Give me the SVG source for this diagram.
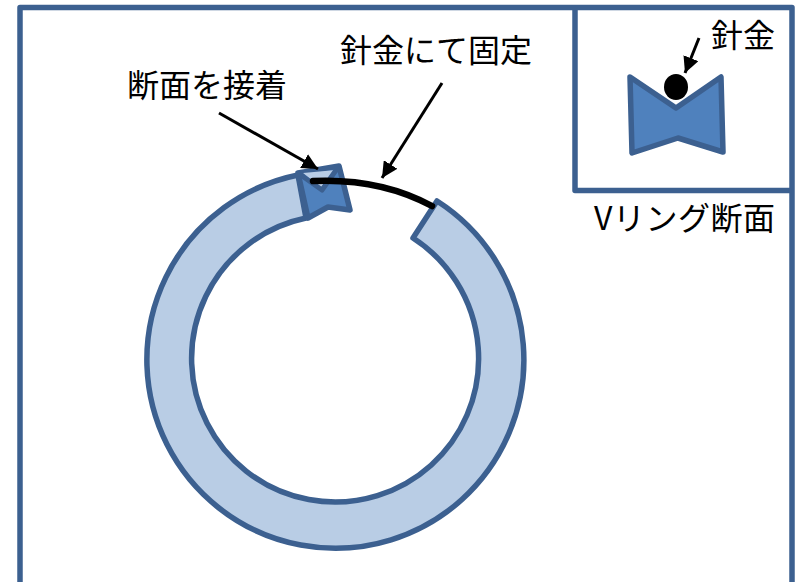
<svg xmlns="http://www.w3.org/2000/svg" width="796" height="582" viewBox="0 0 796 582">
<style>
.f{fill:none;stroke:#3c6090;stroke-width:5.500;stroke-linejoin:round}
.r{fill:#b9cde5;stroke:#3c6090;stroke-width:5.500;stroke-linejoin:round}
.v{fill:#4f81bd;stroke:#3c6090;stroke-width:5.500;stroke-linejoin:round}
.a{fill:none;stroke:#000;stroke-width:3}
text{font-family:"Noto Sans CJK JP","Noto Sans",sans-serif;font-size:32px;fill:#000;font-weight:400}
</style>
<defs><marker id="h" markerUnits="userSpaceOnUse" markerWidth="18" markerHeight="16" refX="16" refY="8" orient="auto"><path d="M0,0L16,8L0,16z" fill="#000"/></marker></defs>
<rect width="796" height="582" fill="#fff"/>
<g id="frame"><path class="f" d="M20,590V7.500H792V590"/></g>
<g id="inset"><path class="f" d="M575,7.500V190.500H792"/></g>
<g id="ring"><path class="r" d="M437,201A188.500,188.500 0 1 1 298,175L306,218A143.500,143.500 0 1 0 413,238Z"/></g>
<g id="joint">
<path class="v" d="M298,173L339,166L350,210L328,207L308,218Z"/>
<path d="M303,173L336,170L322,188Z" fill="#b9cde5" stroke="none"/>
<path d="M298,173L322,190L339,166" fill="none" stroke="#3c6090" stroke-width="5" stroke-linejoin="round"/>
</g>
<g id="section">
<path class="v" d="M630,77L676,108L721,77L723,152L678,138L632,153Z"/>
<ellipse cx="676" cy="87" rx="12" ry="13" fill="#000"/>
</g>
<g id="connectors">
<path d="M313,181Q380,178 432,206" fill="none" stroke="#000" stroke-width="6.500" stroke-linecap="round"/>
<path class="a" d="M219,113L318,169" marker-end="url(#h)"/>
<path class="a" d="M442,83L382,178" marker-end="url(#h)"/>
<path class="a" d="M699,38L685,73" marker-end="url(#h)"/>
</g>
<g id="labels">
<text x="340" y="62">針金にて固定</text>
<text x="127" y="97">断面を接着</text>
<text x="711" y="47">針金</text>
<text x="594" y="230" textLength="181">Vリング断面</text>
</g>
</svg>
